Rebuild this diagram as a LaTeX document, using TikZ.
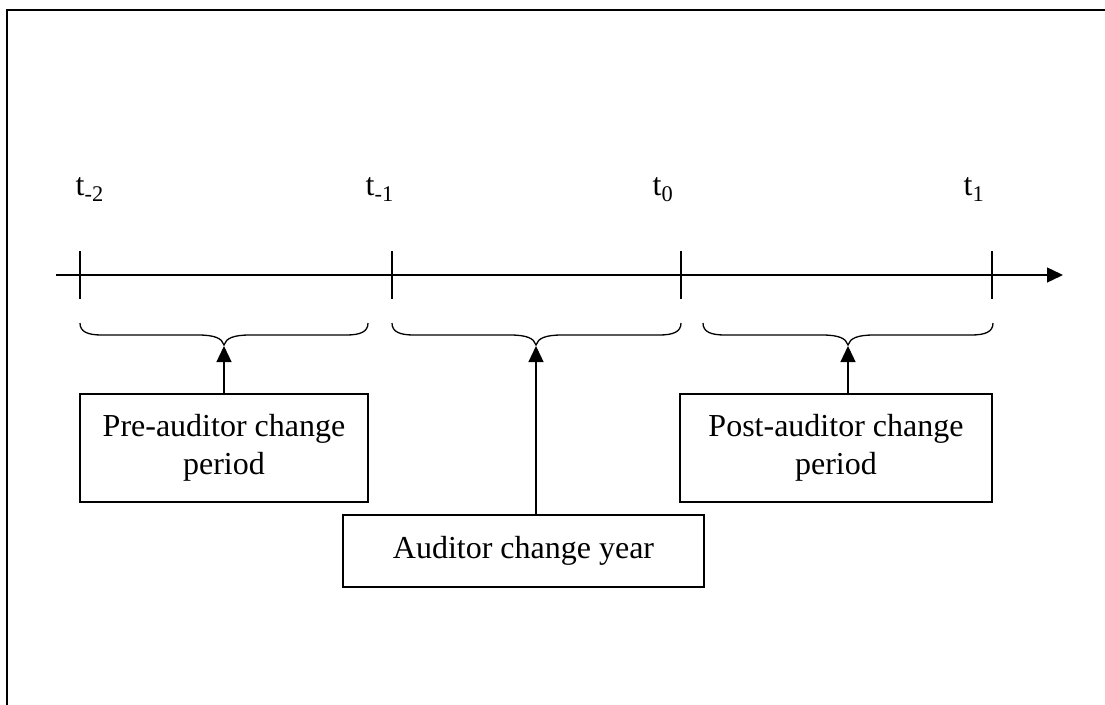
\documentclass[tikz,border=0pt]{standalone}
\usepackage{fontspec}
\setmainfont{Liberation Serif}
\usetikzlibrary{arrows.meta}
% curly brace under a period: left x, right x, tip x
\newcommand\periodbrace[3]{%
  \draw (#1,323) .. controls (#1,332) and (#1+8,335) .. (#1+22,335)
    -- (#3-26,335) .. controls (#3-10,335) and (#3-2,338) .. (#3,345)
    .. controls (#3+2,338) and (#3+10,335) .. (#3+26,335)
    -- (#2-22,335) .. controls (#2-8,335) and (#2,332) .. (#2,323);
}
\begin{document}
\begin{tikzpicture}[x=1pt,y=-1pt,
  line width=1.3pt,
  font=\fontsize{32}{38}\selectfont,
  tip/.style={-{Triangle[length=16pt,width=15pt]}},
  periodbox/.style={draw, align=center, inner sep=0pt},
  tlabel/.style={anchor=base west, inner sep=0pt},
  tick/.style={line width=1.3pt},
]
\useasboundingbox (0,0) rectangle (1105,704);
% outer frame
\draw[line width=2pt] (7,10) rectangle (1130,730);

% time axis
\coordinate (axisL) at (56,275);
\coordinate (axisR) at (1063,275);
\draw[tip] (axisL) -- (axisR);

% ticks
\foreach \n/\x in {tm2/80, tm1/392, t0/681, t1/992}{
  \coordinate (\n) at (\x,275);
  \draw[tick] (\x,251) -- (\x,299);
}

% tick labels
\node[tlabel] (ltm2) at (75,195) {t\textsubscript{-2}};
\node[tlabel] (ltm1) at (365,195) {t\textsubscript{-1}};
\node[tlabel] (lt0)  at (652,195) {t\textsubscript{0}};
\node[tlabel] (lt1)  at (963,195) {t\textsubscript{1}};

% braces
\periodbrace{80}{368}{224}
\periodbrace{392}{681}{536}
\periodbrace{703}{993}{848}
\coordinate (b1) at (224,346);
\coordinate (b2) at (536,346);
\coordinate (b3) at (848,346);

% period boxes
\node[periodbox, minimum width=288pt, minimum height=108pt] (pre) at (224,448)
  {Pre-auditor change\\period};
\node[periodbox, minimum width=361pt, minimum height=72pt] (year) at (523.5,551)
  {Auditor change year};
\node[periodbox, minimum width=312pt, minimum height=108pt] (post) at (836,448)
  {Post-auditor change\\period};

% arrows from boxes to braces
\draw[tip] (pre.north -| b1) -- (b1);
\draw[tip] (year.north -| b2) -- (b2);
\draw[tip] (post.north -| b3) -- (b3);
\end{tikzpicture}
\end{document}
